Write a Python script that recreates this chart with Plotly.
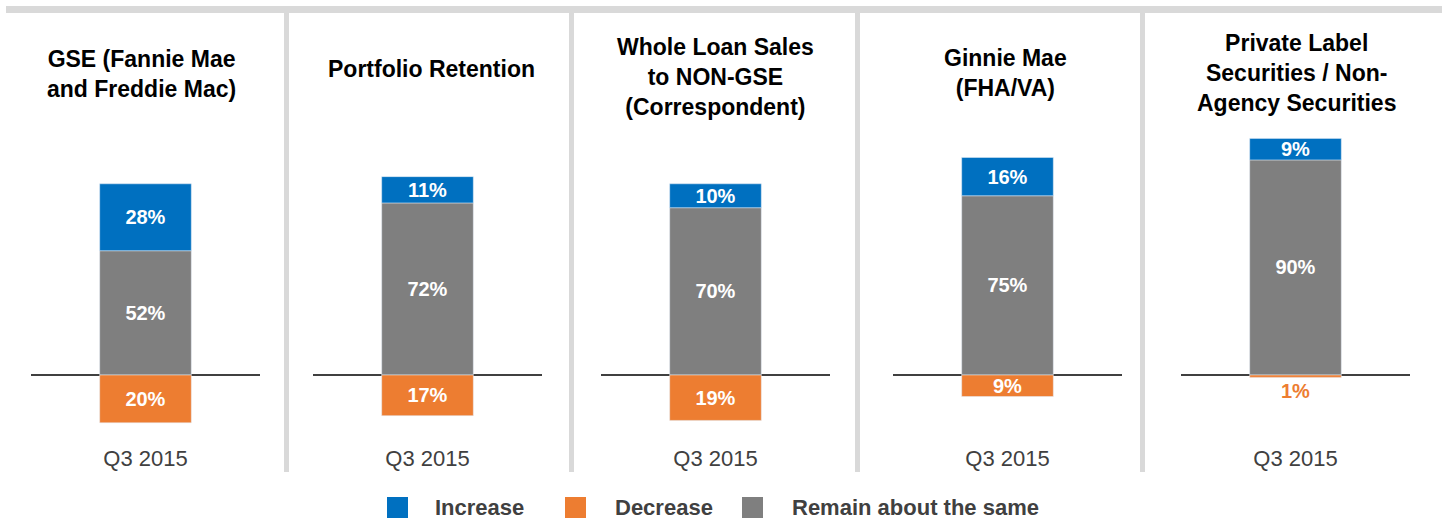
import plotly.graph_objects as go

# data
panel_titles = [
    "GSE (Fannie Mae<br>and Freddie Mac)",
    "Portfolio Retention",
    "Whole Loan Sales<br>to NON-GSE<br>(Correspondent)",
    "Ginnie Mae<br>(FHA/VA)",
    "Private Label<br>Securities / Non-<br>Agency Securities",
]
period = ["Q3 2015"]
increase = [28, 11, 10, 16, 9]
remain = [52, 72, 70, 75, 90]
decrease = [20, 17, 19, 9, 1]
series_names = ["Increase", "Decrease", "Remain about the same"]

BLUE = "#0070C0"
ORANGE = "#ED7D31"
GREY = "#7F7F7F"
SEP = "#D9D9D9"
FONT = "Liberation Sans, Arial, sans-serif"

W, H = 1442, 523
PX_PER_PCT = 2.39
Y_ZERO = 375          # pixel row of the baseline
Y_TOP, Y_BOT = 125, 443
line_spans = [(31, 260), (313, 542), (601, 830), (893, 1122), (1181, 1410)]
title_pos = [(141, 74), (432, 69), (715, 77), (1005, 73), (1296, 73)]


def fx(px):
    return px / W


def fy(py):
    return 1 - py / H


y_range = [-(Y_BOT - Y_ZERO) / PX_PER_PCT, (Y_ZERO - Y_TOP) / PX_PER_PCT]

fig = go.Figure()
LBL = 20
label_font = dict(family=FONT, size=LBL, color="white")

for i in range(5):
    sfx = "" if i == 0 else str(i + 1)
    xa, ya = "x" + sfx, "y" + sfx

    # remain first so that it sits on the baseline, increase stacks above
    fig.add_trace(go.Bar(
        x=period, y=[remain[i]], name=series_names[2], marker_color=GREY,
        text=[f"<b>{remain[i]}%</b>"], textposition="inside",
        insidetextanchor="middle", textfont=label_font, constraintext="none",
        width=0.4, xaxis=xa, yaxis=ya, showlegend=False, hoverinfo="skip",
    ))
    fig.add_trace(go.Bar(
        x=period, y=[increase[i]], name=series_names[0], marker_color=BLUE,
        text=[f"<b>{increase[i]}%</b>"], textposition="inside",
        insidetextanchor="middle", textfont=label_font, constraintext="none",
        width=0.4, xaxis=xa, yaxis=ya, showlegend=False, hoverinfo="skip",
    ))
    small = decrease[i] < 5
    fig.add_trace(go.Bar(
        x=period, y=[-decrease[i]], name=series_names[1], marker_color=ORANGE,
        text=[f"<b>{decrease[i]}%</b>"],
        textposition="outside" if small else "inside",
        insidetextanchor="middle", constraintext="none", cliponaxis=False,
        textfont=dict(family=FONT, size=LBL, color=ORANGE if small else "white"),
        width=0.4, xaxis=xa, yaxis=ya, showlegend=False, hoverinfo="skip",
    ))

    x0, x1 = line_spans[i]
    fig.layout["xaxis" + sfx] = dict(
        domain=[fx(x0), fx(x1)], anchor=ya, range=[-0.5, 0.5],
        showgrid=False, showline=False, ticks="", fixedrange=True,
        tickfont=dict(family=FONT, size=22, color="#404040"),
    )
    fig.layout["yaxis" + sfx] = dict(
        domain=[fy(Y_BOT), fy(Y_TOP)], anchor=xa, range=y_range,
        showgrid=False, showticklabels=False, showline=False,
        zeroline=True, zerolinecolor="#404040", zerolinewidth=1.5,
        fixedrange=True,
    )

    tx, ty = title_pos[i]
    fig.add_annotation(
        text=f"<b>{panel_titles[i]}</b>", xref="paper", yref="paper",
        x=fx(tx), y=fy(ty), xanchor="center", yanchor="middle",
        showarrow=False, font=dict(family=FONT, size=23, color="black"),
    )

# top bar and separators
fig.add_shape(type="rect", xref="paper", yref="paper",
              x0=fx(6), x1=1, y0=fy(13), y1=fy(6),
              fillcolor=SEP, line_width=0, layer="below")
for sx in [284, 569, 855, 1140]:
    fig.add_shape(type="rect", xref="paper", yref="paper",
                  x0=fx(sx), x1=fx(sx + 5), y0=fy(472), y1=fy(13),
                  fillcolor=SEP, line_width=0, layer="below")

# legend drawn by hand so the swatches match the original size
legend_colors = [BLUE, ORANGE, GREY]
swatch_x = [387, 565, 742]
label_x = [433, 613, 790]
for name, col, sx, lx in zip(series_names, legend_colors, swatch_x, label_x):
    fig.add_shape(type="rect", xref="paper", yref="paper",
                  x0=fx(sx), x1=fx(sx + 21), y0=fy(518), y1=fy(497),
                  fillcolor=col, line_width=0)
    fig.add_annotation(
        text=f"<b>{name}</b>", xref="paper", yref="paper",
        x=fx(lx), y=fy(507), xanchor="left", yanchor="middle",
        showarrow=False, font=dict(family=FONT, size=22, color="#404040"),
    )

fig.update_layout(
    width=W, height=H, barmode="relative",
    margin=dict(l=0, r=0, t=0, b=0),
    paper_bgcolor="white", plot_bgcolor="white",
    uniformtext=dict(mode="show", minsize=LBL),
    showlegend=False,
)

# the page body has a default 8px margin; drop it so the chart fills the window
fig.write_html("out.html", config={"displayModeBar": False},
               post_script="document.body.style.margin='0';")
